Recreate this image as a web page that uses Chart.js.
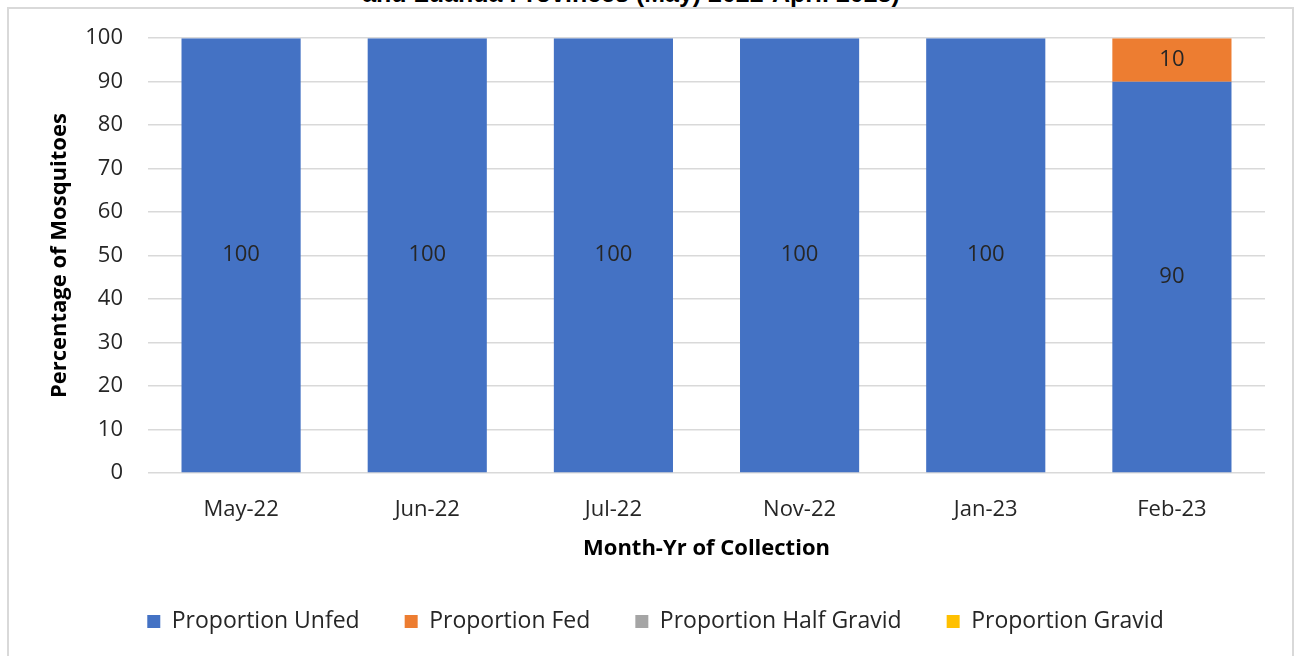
<!DOCTYPE html>
<html>
<head>
<meta charset="utf-8">
<script src="https://cdn.jsdelivr.net/npm/chart.js@4/dist/chart.umd.min.js"></script>
<style>
  html, body { margin: 0; padding: 0; background: #fff; overflow: hidden; }
  #wrap { position: relative; width: 1296px; height: 656px; overflow: hidden; }
  #frame { position: absolute; left: 7px; top: 7px; width: 1287px; height: 670px; border: 2px solid #d9d9d9; box-sizing: border-box; }
  #title { position: absolute; left: 0; width: 1262px; top: -21px; text-align: center;
           font: bold 25px "Liberation Sans", Arial, sans-serif; color: #000; white-space: nowrap; }
  #chart { position: absolute; left: 0; top: 0; }
</style>
</head>
<body>
<div id="wrap">
  <div id="frame"></div>
  <div id="title">and Luanda Provinces (May) 2022-April 2023)</div>
  <canvas id="chart" width="1296" height="656"></canvas>
</div>
<script>
// ═══ Blood-feeding status by collection month ═══
const months = ["May-22", "Jun-22", "Jul-22", "Nov-22", "Jan-23", "Feb-23"];
const unfed = [100, 100, 100, 100, 100, 90];
const fed = [0, 0, 0, 0, 0, 10];
const halfGravid = [0, 0, 0, 0, 0, 0];
const gravid = [0, 0, 0, 0, 0, 0];
const yTicks = [0, 10, 20, 30, 40, 50, 60, 70, 80, 90, 100];

const FONT = "'Open Sans', Lato, sans-serif";
const TEXT = "#262626";

// value labels in the middle of each non-zero segment
const segmentLabels = {
  id: "segmentLabels",
  afterDatasetsDraw(chart) {
    const ctx = chart.ctx;
    ctx.save();
    ctx.font = `22px ${FONT}`;
    ctx.fillStyle = "#262626";
    ctx.textAlign = "center";
    ctx.textBaseline = "middle";
    chart.data.datasets.forEach((ds, i) => {
      const meta = chart.getDatasetMeta(i);
      if (meta.hidden) return;
      meta.data.forEach((bar, j) => {
        const v = ds.data[j];
        if (!v) return;
        const { x, y, base } = bar.getProps(["x", "y", "base"], true);
        ctx.fillText(String(v), x, (y + base) / 2);
      });
    });
    ctx.restore();
  },
};

new Chart(document.getElementById("chart"), {
  type: "bar",
  data: {
    labels: months,
    datasets: [
      { label: "Proportion Unfed", data: unfed, backgroundColor: "#4472C4" },
      { label: "Proportion Fed", data: fed, backgroundColor: "#ED7D31" },
      { label: "Proportion Half Gravid", data: halfGravid, backgroundColor: "#A5A5A5" },
      { label: "Proportion Gravid", data: gravid, backgroundColor: "#FFC000" },
    ],
  },
  options: {
    responsive: false,
    animation: false,
    layout: { padding: { top: 36, right: 31, bottom: 13, left: 46 } },
    datasets: { bar: { categoryPercentage: 0.64, barPercentage: 1.0 } },
    plugins: {
      legend: {
        position: "bottom",
        labels: {
          boxWidth: 13, boxHeight: 13, padding: 45, color: TEXT,
          font: { family: FONT, size: 23 },
        },
      },
      tooltip: { enabled: false },
    },
    scales: {
      x: {
        stacked: true,
        grid: { display: false },
        border: { display: false },
        ticks: { color: TEXT, padding: 16, font: { family: FONT, size: 22 } },
        title: { display: true, text: "Month-Yr of Collection", color: "#000",
                 font: { family: FONT, size: 22, weight: "bold" }, padding: { top: 0, bottom: 3 } },
        afterFit: (s) => { s.height = 92; },
      },
      y: {
        stacked: true,
        min: 0, max: 100,
        afterBuildTicks: (s) => { s.ticks = yTicks.map((v) => ({ value: v })); },
        grid: { color: "#d9d9d9", lineWidth: 1.5, drawTicks: false },
        border: { display: false },
        ticks: { color: TEXT, padding: 25, font: { family: FONT, size: 22 } },
        title: { display: true, text: "Percentage of Mosquitoes", color: "#000",
                 font: { family: FONT, size: 22, weight: "bold" }, padding: { top: 1, bottom: 0 } },
        afterFit: (s) => { s.width = 102; },
      },
    },
  },
  plugins: [segmentLabels],
});
</script>
</body>
</html>
